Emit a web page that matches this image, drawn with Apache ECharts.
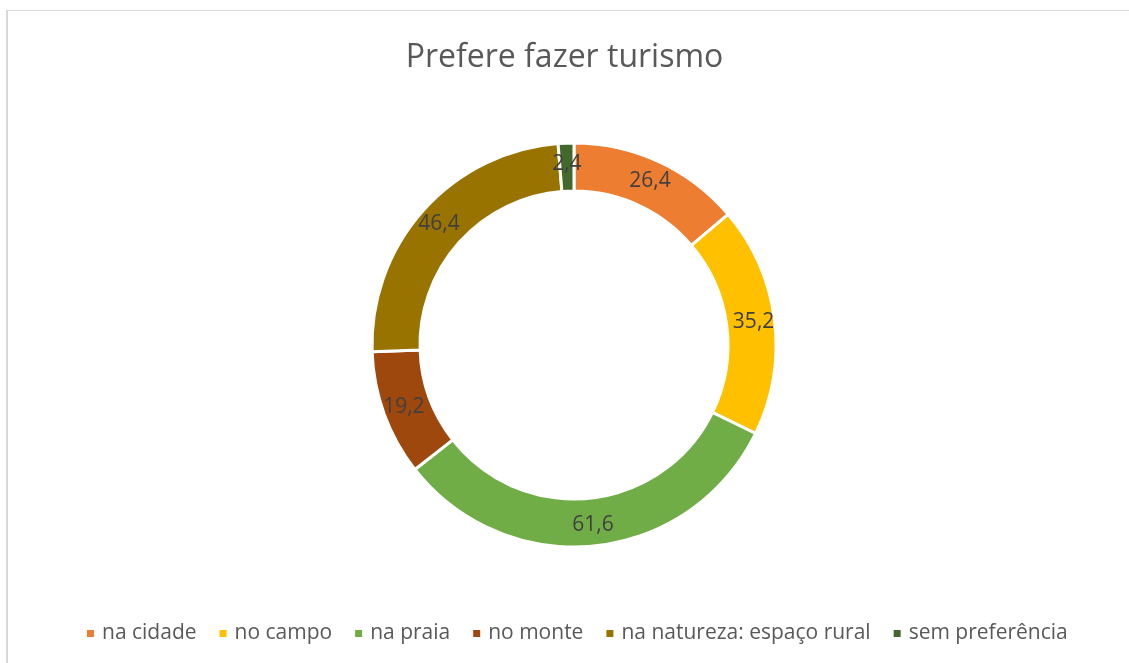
<!DOCTYPE html>
<html>
<head>
<meta charset="utf-8">
<title>Prefere fazer turismo</title>
<script src="https://cdn.jsdelivr.net/npm/echarts@6/dist/echarts.min.js"></script>
<style>
  html, body { margin: 0; padding: 0; background: #fff; }
  #chart { width: 1129px; height: 663px; }
</style>
</head>
<body>
<div id="chart"></div>
<script>
// Preferred type of tourism — values per category
const categories = ['na cidade', 'no campo', 'na praia', 'no monte', 'na natureza: espaço rural', 'sem preferência'];
const values = [26.4, 35.2, 61.6, 19.2, 46.4, 2.4];
const colors = ['#ED7D31', '#FFC000', '#70AD47', '#9E480E', '#997300', '#43682B'];

const FONT = '"Open Sans", "Noto Sans", sans-serif';

const chart = echarts.init(document.getElementById('chart'), null, { renderer: 'canvas' });

chart.setOption({
  backgroundColor: '#ffffff',
  animation: false,
  color: colors,
  title: {
    text: 'Prefere fazer turismo',
    left: 'center',
    top: 37,
    textStyle: { fontFamily: FONT, fontSize: 32, fontWeight: 'normal', color: '#595959' }
  },
  legend: {
    bottom: 14,
    left: 80,
    icon: 'rect',
    itemWidth: 9,
    itemHeight: 9,
    itemGap: 21,
    textStyle: { fontFamily: FONT, fontSize: 21, color: '#595959', padding: [0, 0, 0, 2] },
    data: categories
  },
  graphic: [
    { type: 'line', shape: { x1: 7, y1: 10.5, x2: 1129, y2: 10.5 }, style: { stroke: '#d9d9d9', lineWidth: 1 } },
    { type: 'line', shape: { x1: 7, y1: 10, x2: 7, y2: 663 }, style: { stroke: '#d9d9d9', lineWidth: 2 } }
  ],
  series: [{
    type: 'pie',
    center: [574, 345],
    radius: [154, 202],
    startAngle: 90,
    clockwise: true,
    avoidLabelOverlap: false,
    itemStyle: { borderColor: '#ffffff', borderWidth: 3 },
    label: {
      show: true,
      position: 'inside',
      fontFamily: FONT,
      fontSize: 21,
      color: '#404040',
      formatter: p => String(p.value).replace('.', ',')
    },
    labelLine: { show: false },
    emphasis: { disabled: true },
    data: categories.map((c, i) => ({ name: c, value: values[i] }))
  }]
});
</script>
</body>
</html>
